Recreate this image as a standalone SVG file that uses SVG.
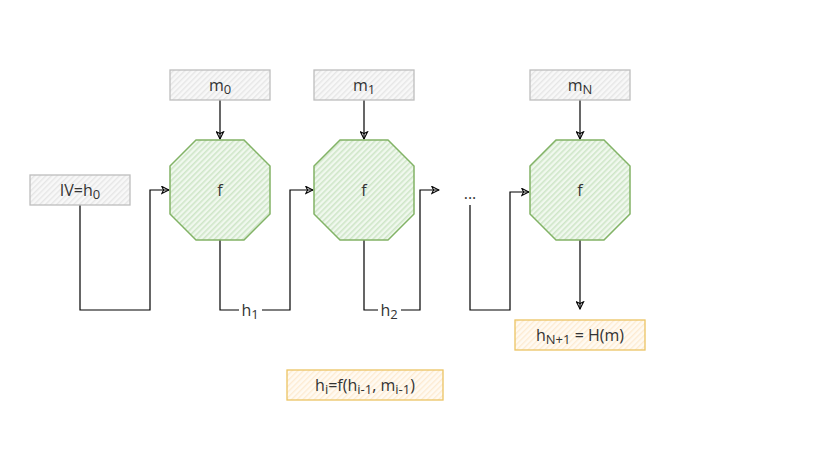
<svg xmlns="http://www.w3.org/2000/svg" width="827" height="455" viewBox="0 0 827 455">
<defs>
<pattern id="hg" width="4" height="4" patternUnits="userSpaceOnUse" patternTransform="rotate(45)"><rect width="4" height="4" fill="#f8f8f8"/><rect width="1.4" height="4" fill="#e6e6e6"/></pattern>
<pattern id="hgr" width="4" height="4" patternUnits="userSpaceOnUse" patternTransform="rotate(45)"><rect width="4" height="4" fill="#f0f8ee"/><rect width="1.6" height="4" fill="#cfe6c8"/></pattern>
<pattern id="hy" width="4" height="4" patternUnits="userSpaceOnUse" patternTransform="rotate(45)"><rect width="4" height="4" fill="#fffaf2"/><rect width="1.4" height="4" fill="#fdebd2"/></pattern>
<marker id="ar" viewBox="0 0 10 10" refX="9" refY="5" markerWidth="9" markerHeight="9" orient="auto" markerUnits="userSpaceOnUse"><path d="M1,1 L9,5 L1,9 L3,5 Z" fill="none" stroke="#000" stroke-width="1.2"/></marker>
<style>
text{font-family:"Open Sans","Noto Sans","DejaVu Sans",sans-serif;font-size:16px;fill:#333;text-anchor:middle}
.g{fill:url(#hg);stroke:#bdbdbd;stroke-width:1.3}
.o{fill:url(#hgr);stroke:#82b366;stroke-width:1.5}
.y{fill:url(#hy);stroke:#ecc463;stroke-width:1.3}
.c{fill:none;stroke:#000;stroke-width:1.2}
.s{font-size:13px}
</style>
</defs>
<g id="connectors">
<path class="c" d="M220,100 L220,139" marker-end="url(#ar)"/>
<path class="c" d="M364,100 L364,139" marker-end="url(#ar)"/>
<path class="c" d="M580,100 L580,139" marker-end="url(#ar)"/>
<path class="c" d="M80,205 L80,310 L150,310 L150,190 L169,190" marker-end="url(#ar)"/>
<path class="c" d="M220,240 L220,310 L290,310 L290,190 L313,190" marker-end="url(#ar)"/>
<path class="c" d="M364,240 L364,310 L420,310 L420,190 L439,190" marker-end="url(#ar)"/>
<path class="c" d="M470,205 L470,310 L510,310 L510,192 L529,192" marker-end="url(#ar)"/>
<path class="c" d="M580,240 L580,309" marker-end="url(#ar)"/>
<rect x="239" y="300" width="23" height="20" fill="#fff"/>
<text x="250" y="316">h<tspan class="s" dy="3">1</tspan></text>
<rect x="378" y="300" width="23" height="20" fill="#fff"/>
<text x="389" y="316">h<tspan class="s" dy="3">2</tspan></text>
</g>
<g id="m0"><rect class="g" x="170" y="70" width="100" height="30"/><text x="220" y="91">m<tspan class="s" dy="3">0</tspan></text></g>
<g id="m1"><rect class="g" x="314" y="70" width="100" height="30"/><text x="364" y="91">m<tspan class="s" dy="3">1</tspan></text></g>
<g id="mN"><rect class="g" x="530" y="70" width="100" height="30"/><text x="580" y="91">m<tspan class="s" dy="3">N</tspan></text></g>
<g id="iv"><rect class="g" x="30" y="175" width="100" height="30"/><text x="80" y="196">IV=h<tspan class="s" dy="3">0</tspan></text></g>
<g id="f1"><polygon class="o" points="196,140 244,140 270,166 270,214 244,240 196,240 170,214 170,166"/><text x="220" y="196">f</text></g>
<g id="f2"><polygon class="o" points="340,140 388,140 414,166 414,214 388,240 340,240 314,214 314,166"/><text x="364" y="196">f</text></g>
<g id="fN"><polygon class="o" points="556,140 604,140 630,166 630,214 604,240 556,240 530,214 530,166"/><text x="580" y="196">f</text></g>
<g id="dots"><text x="470" y="199">...</text></g>
<g id="out"><rect class="y" x="515" y="320" width="130" height="30"/><text x="580" y="341">h<tspan class="s" dy="3">N+1</tspan><tspan dy="-3"> = H(m)</tspan></text></g>
<g id="formula"><rect class="y" x="287" y="370" width="156" height="30"/><text x="365" y="391">h<tspan class="s" dy="3">i</tspan><tspan dy="-3">=f(h</tspan><tspan class="s" dy="3">i-1</tspan><tspan dy="-3">, m</tspan><tspan class="s" dy="3">i-1</tspan><tspan dy="-3">)</tspan></text></g>
</svg>
